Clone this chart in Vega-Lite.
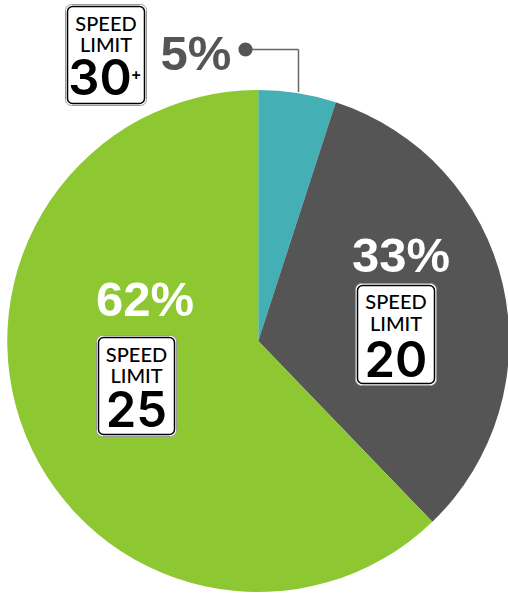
{"$schema":"https://vega.github.io/schema/vega-lite/v6.json","width":499.5,"height":500,"padding":{"left":8.5,"top":91,"right":0,"bottom":2},"autosize":{"type":"none"},"background":"white","config":{"view":{"stroke":null},"axis":{"disable":true},"legend":{"disable":true}},
"data":{"values":[{"speed":"30+","share":5,"rank":1,"label":"5%"},{"speed":"20","share":32.8,"rank":2,"label":"33%"},{"speed":"25","share":62.2,"rank":3,"label":"62%"}]},
"layer":[
{"mark":{"type":"arc","outerRadius":251},"encoding":{"theta":{"field":"share","type":"quantitative","stack":true},"order":{"field":"rank","type":"ordinal"},"color":{"field":"speed","type":"nominal","scale":{"domain":["30+","20","25"],"range":["#44b0b5","#555555","#8dc833"]}}}},
{"transform":[{"filter":"datum.speed==='30+'"}],"mark":{"type":"rule","color":"#666666","strokeWidth":1.5},"encoding":{"x":{"datum":245,"type":"quantitative","scale":{"domain":[8.5,508],"nice":false,"zero":false}},"x2":{"datum":298.5},"y":{"datum":49.5,"type":"quantitative","scale":{"domain":[591,91],"nice":false,"zero":false}}}},
{"transform":[{"filter":"datum.speed==='30+'"}],"mark":{"type":"rule","color":"#666666","strokeWidth":1.5},"encoding":{"x":{"datum":298.5,"type":"quantitative"},"y":{"datum":49.5,"type":"quantitative"},"y2":{"datum":92}}},
{"transform":[{"filter":"datum.speed==='30+'"}],"mark":{"type":"point","filled":true,"color":"#555555","size":200,"opacity":1},"encoding":{"x":{"datum":245.5,"type":"quantitative"},"y":{"datum":49.5,"type":"quantitative"}}},
{"transform":[{"filter":"datum.speed==='30+'"}],"mark":{"type":"text","font":"Liberation Sans","fontWeight":"bold","fontSize":49,"align":"center","baseline":"alphabetic","color":"#555555"},"encoding":{"x":{"datum":196,"type":"quantitative"},"y":{"datum":69.5,"type":"quantitative"},"text":{"field":"label"}}},
{"transform":[{"filter":"datum.speed==='20'"}],"mark":{"type":"text","font":"Liberation Sans","fontWeight":"bold","fontSize":49,"align":"center","baseline":"alphabetic","color":"white"},"encoding":{"x":{"datum":401,"type":"quantitative"},"y":{"datum":272,"type":"quantitative"},"text":{"field":"label"}}},
{"transform":[{"filter":"datum.speed==='25'"}],"mark":{"type":"text","font":"Liberation Sans","fontWeight":"bold","fontSize":49,"align":"center","baseline":"alphabetic","color":"white"},"encoding":{"x":{"datum":145,"type":"quantitative"},"y":{"datum":316,"type":"quantitative"},"text":{"field":"label"}}},

{"transform":[{"filter":"datum.speed==='30+'"}],"mark":{"type":"rect","fill":"white","stroke":"#999999","strokeWidth":1,"cornerRadius":6},"encoding":{"x":{"datum":65.5,"type":"quantitative"},"x2":{"datum":146.5},"y":{"datum":4.5,"type":"quantitative"},"y2":{"datum":105.5}}},
{"transform":[{"filter":"datum.speed==='30+'"}],"mark":{"type":"rect","fill":"white","stroke":"black","strokeWidth":1.5,"cornerRadius":5},"encoding":{"x":{"datum":67.5,"type":"quantitative"},"x2":{"datum":144.5},"y":{"datum":6.5,"type":"quantitative"},"y2":{"datum":103.5}}},
{"transform":[{"filter":"datum.speed==='30+'"}],"mark":{"type":"text","text":"SPEED","font":"Lato","fontSize":20,"fontWeight":500,"align":"center","baseline":"alphabetic","color":"black"},"encoding":{"x":{"datum":106,"type":"quantitative"},"y":{"datum":30.5,"type":"quantitative"}}},
{"transform":[{"filter":"datum.speed==='30+'"}],"mark":{"type":"text","text":"LIMIT","font":"Lato","fontSize":20,"fontWeight":500,"align":"center","baseline":"alphabetic","color":"black"},"encoding":{"x":{"datum":106,"type":"quantitative"},"y":{"datum":52,"type":"quantitative"}}},
{"transform":[{"filter":"datum.speed==='30+'"}],"mark":{"type":"text","text":"30","font":"Inter","fontWeight":600,"fontSize":49,"align":"center","baseline":"alphabetic","color":"black"},"encoding":{"x":{"datum":100,"type":"quantitative"},"y":{"datum":95,"type":"quantitative"}}},
{"transform":[{"filter":"datum.speed==='30+'"}],"mark":{"type":"text","text":"+","font":"Inter","fontWeight":600,"fontSize":16,"align":"center","baseline":"middle","color":"black"},"encoding":{"x":{"datum":136,"type":"quantitative"},"y":{"datum":75,"type":"quantitative"}}},

{"transform":[{"filter":"datum.speed==='20'"}],"mark":{"type":"rect","fill":"white","stroke":"#999999","strokeWidth":1,"cornerRadius":6},"encoding":{"x":{"datum":355.5,"type":"quantitative"},"x2":{"datum":436.5},"y":{"datum":283.5,"type":"quantitative"},"y2":{"datum":385.5}}},
{"transform":[{"filter":"datum.speed==='20'"}],"mark":{"type":"rect","fill":"white","stroke":"black","strokeWidth":1.5,"cornerRadius":5},"encoding":{"x":{"datum":357.5,"type":"quantitative"},"x2":{"datum":434.5},"y":{"datum":285.5,"type":"quantitative"},"y2":{"datum":383.5}}},
{"transform":[{"filter":"datum.speed==='20'"}],"mark":{"type":"text","text":"SPEED","font":"Lato","fontSize":20,"fontWeight":500,"align":"center","baseline":"alphabetic","color":"black"},"encoding":{"x":{"datum":396,"type":"quantitative"},"y":{"datum":309,"type":"quantitative"}}},
{"transform":[{"filter":"datum.speed==='20'"}],"mark":{"type":"text","text":"LIMIT","font":"Lato","fontSize":20,"fontWeight":500,"align":"center","baseline":"alphabetic","color":"black"},"encoding":{"x":{"datum":396,"type":"quantitative"},"y":{"datum":331,"type":"quantitative"}}},
{"transform":[{"filter":"datum.speed==='20'"}],"mark":{"type":"text","text":"20","font":"Inter","fontWeight":600,"fontSize":49,"align":"center","baseline":"alphabetic","color":"black"},"encoding":{"x":{"datum":396,"type":"quantitative"},"y":{"datum":377,"type":"quantitative"}}},

{"transform":[{"filter":"datum.speed==='25'"}],"mark":{"type":"rect","fill":"white","stroke":"#999999","strokeWidth":1,"cornerRadius":6},"encoding":{"x":{"datum":96.5,"type":"quantitative"},"x2":{"datum":176.5},"y":{"datum":335.5,"type":"quantitative"},"y2":{"datum":436.5}}},
{"transform":[{"filter":"datum.speed==='25'"}],"mark":{"type":"rect","fill":"white","stroke":"black","strokeWidth":1.5,"cornerRadius":5},"encoding":{"x":{"datum":98.5,"type":"quantitative"},"x2":{"datum":174.5},"y":{"datum":337.5,"type":"quantitative"},"y2":{"datum":434.5}}},
{"transform":[{"filter":"datum.speed==='25'"}],"mark":{"type":"text","text":"SPEED","font":"Lato","fontSize":20,"fontWeight":500,"align":"center","baseline":"alphabetic","color":"black"},"encoding":{"x":{"datum":136.5,"type":"quantitative"},"y":{"datum":362,"type":"quantitative"}}},
{"transform":[{"filter":"datum.speed==='25'"}],"mark":{"type":"text","text":"LIMIT","font":"Lato","fontSize":20,"fontWeight":500,"align":"center","baseline":"alphabetic","color":"black"},"encoding":{"x":{"datum":136.5,"type":"quantitative"},"y":{"datum":383,"type":"quantitative"}}},
{"transform":[{"filter":"datum.speed==='25'"}],"mark":{"type":"text","text":"25","font":"Inter","fontWeight":600,"fontSize":49,"align":"center","baseline":"alphabetic","color":"black"},"encoding":{"x":{"datum":136.5,"type":"quantitative"},"y":{"datum":427,"type":"quantitative"}}}
]}
